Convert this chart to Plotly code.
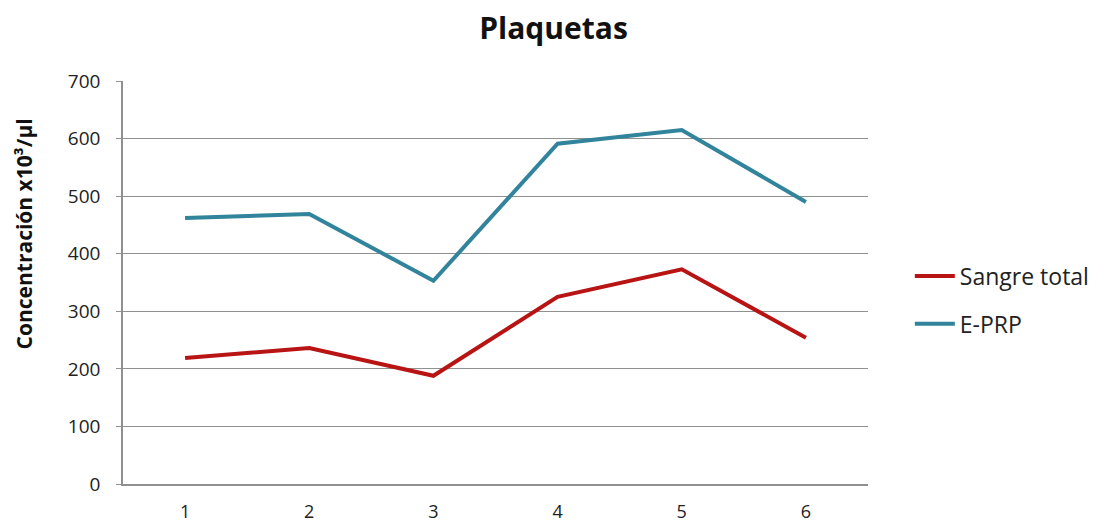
import plotly.graph_objects as go

categories = ["1", "2", "3", "4", "5", "6"]
sangre_total = [219, 236, 188, 325, 373, 254]
e_prp = [462, 469, 353, 591, 615, 490]
y_ticks = [0, 100, 200, 300, 400, 500, 600, 700]

FONT = "Open Sans"
L, R, T, B = 123, 236, 81, 45
W, H = 1107, 529
pw = W - L - R
ph = H - T - B

fig = go.Figure()
fig.add_trace(go.Scatter(x=categories, y=sangre_total, mode="lines", name="Sangre total",
                         line=dict(color="#B81414", width=4), legendgroup="a"))
fig.add_trace(go.Scatter(x=categories, y=e_prp, mode="lines", name="E-PRP",
                         line=dict(color="#31849B", width=4), legendgroup="b"))

fig.update_layout(
    width=W, height=H,
    margin=dict(l=L, r=R, t=T, b=B),
    plot_bgcolor="white", paper_bgcolor="white",
    font=dict(family=FONT, color="#404040", size=19),
    title=dict(text="<b>Plaquetas</b>", x=0.5, xref="container", xanchor="center",
               y=1 - 28 / H, yref="container", yanchor="middle",
               font=dict(family=FONT, size=30, color="#111111")),
    showlegend=True,
    legend=dict(x=(913 - L) / pw, xanchor="left", y=(484 - 300) / ph, yanchor="middle",
                font=dict(family=FONT, size=23, color="#222222"),
                tracegroupgap=15, itemwidth=40, bgcolor="rgba(0,0,0,0)"),
    xaxis=dict(type="category", range=[-0.5, 5.5], showgrid=False, automargin=False,
               showline=True, linecolor="#909090", linewidth=1.5,
               ticks="", ticklabelstandoff=11,
               tickfont=dict(family=FONT, size=18, color="#222222"),
               fixedrange=True),
    yaxis=dict(range=[0, 700], tickvals=y_ticks, showgrid=True, gridcolor="#909090",
               gridwidth=1, showline=True, linecolor="#909090", linewidth=1.5,
               ticks="outside", ticklen=5, tickcolor="#909090", ticklabelstandoff=12,
               zeroline=False, automargin=False,
               tickfont=dict(family=FONT, size=19, color="#222222"),
               fixedrange=True),
    annotations=[dict(text="<b>Concentración x10³/µl</b>", textangle=-90,
                      xref="paper", yref="paper", x=(24 - L) / pw, y=(484 - 234) / ph,
                      xanchor="center", yanchor="middle", showarrow=False,
                      font=dict(family=FONT, size=21, color="#111111"))],
)

fig.write_html("out.html", config={"displayModeBar": False},
               post_script="document.body.style.margin='0px';")
